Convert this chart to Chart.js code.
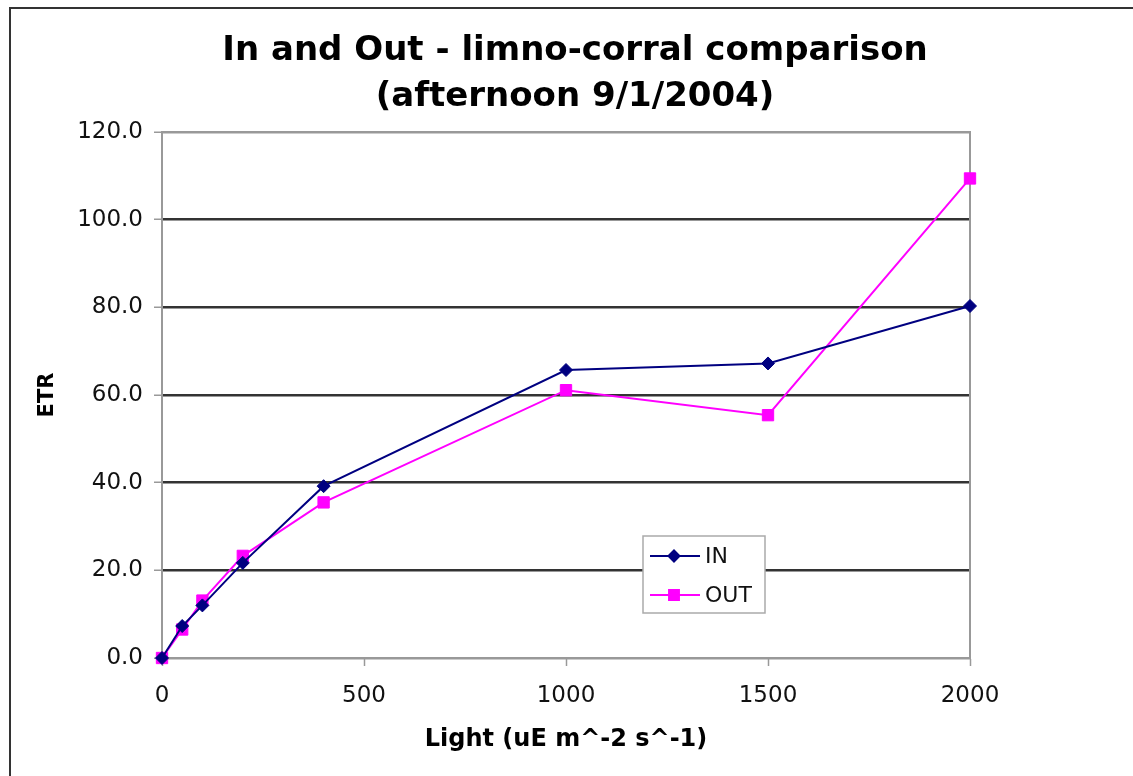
<!DOCTYPE html>
<html>
<head>
<meta charset="utf-8">
<title>In and Out - limno-corral comparison</title>
<script src="https://cdn.jsdelivr.net/npm/chart.js@4/dist/chart.umd.min.js"></script>
<style>
    body { margin: 0; background: #fff; }
    #wrap { width: 1133px; height: 776px; }
</style>
</head>
<body>
<div id="wrap"><canvas id="etrChart" width="1133" height="776"></canvas></div>
<script>
// Light levels (uE m^-2 s^-1) and ETR readings
const lightLevels = [0, 50, 100, 200, 400, 1000, 1500, 2000];
const inValues = [0, 7.3, 12.0, 21.7, 39.2, 65.7, 67.2, 80.3];
const outValues = [0, 6.5, 13.1, 23.3, 35.5, 61.1, 55.4, 109.4];
const seriesNames = ['IN', 'OUT'];
const xTicks = [0, 500, 1000, 1500, 2000];
const yTicks = [0, 20, 40, 60, 80, 100, 120];
const titleLines = ['In and Out - limno-corral comparison', '(afternoon 9/1/2004)'];

const FONT = "'DejaVu Sans', Verdana, sans-serif";

function toPoints(values) {
    return lightLevels.map((x, i) => ({ x: x, y: values[i] }));
}

// frame, title, plot box and the inset legend
const decorPlugin = {
    id: 'decor',
    beforeDatasetsDraw(chart) {
        const ctx = chart.ctx;
        const area = chart.chartArea;
        ctx.save();
        // plot area box (under the series so markers on the edge stay on top)
        ctx.strokeStyle = '#999';
        ctx.lineWidth = 2;
        ctx.strokeRect(area.left, area.top, area.right - area.left, area.bottom - area.top);
        ctx.restore();
    },
    afterDraw(chart) {
        const ctx = chart.ctx;
        ctx.save();

        // outer frame (only top and left edges are visible)
        ctx.strokeStyle = '#333';
        ctx.lineWidth = 2;
        ctx.beginPath();
        ctx.moveTo(10, chart.height);
        ctx.lineTo(10, 8);
        ctx.lineTo(chart.width, 8);
        ctx.stroke();

        // title, centred on the page rather than the plot
        ctx.fillStyle = '#000';
        ctx.font = 'bold 34px ' + FONT;
        ctx.textAlign = 'center';
        ctx.textBaseline = 'middle';
        titleLines.forEach((line, i) => {
            ctx.fillText(line, 575, 51 + i * 46);
        });

        // legend
        const lx = 643, ly = 536, lw = 122, lh = 77;
        ctx.fillStyle = '#fff';
        ctx.fillRect(lx, ly, lw, lh);
        ctx.strokeStyle = '#aaa';
        ctx.lineWidth = 1.5;
        ctx.strokeRect(lx, ly, lw, lh);

        ctx.font = '22px ' + FONT;
        ctx.textBaseline = 'middle';
        ctx.textAlign = 'left';
        chart.data.datasets.forEach((ds, i) => {
            const y = ly + 20 + i * 39;
            ctx.strokeStyle = ds.borderColor;
            ctx.lineWidth = 2;
            ctx.beginPath();
            ctx.moveTo(lx + 7, y);
            ctx.lineTo(lx + 57, y);
            ctx.stroke();
            ctx.fillStyle = ds.pointBackgroundColor;
            Chart.helpers.drawPoint(ctx, {
                pointStyle: ds.pointStyle,
                radius: ds.pointRadius - 1,
                borderWidth: 1
            }, lx + 31, y);
            ctx.fillStyle = '#111';
            ctx.fillText(ds.label, lx + 62, y + 1);
        });
        ctx.restore();
    }
};

const ctx = document.getElementById('etrChart').getContext('2d');
const etrChart = new Chart(ctx, {
    type: 'scatter',
    data: {
        datasets: [
            {
                label: seriesNames[0],
                data: toPoints(inValues),
                showLine: true,
                clip: false,
                borderColor: '#000080',
                backgroundColor: '#000080',
                pointBackgroundColor: '#000080',
                pointBorderColor: '#000080',
                pointStyle: 'rectRot',
                pointRadius: 6.5,
                pointBorderWidth: 1,
                borderWidth: 2
            },
            {
                label: seriesNames[1],
                data: toPoints(outValues),
                showLine: true,
                clip: false,
                borderColor: '#ff00ff',
                backgroundColor: '#ff00ff',
                pointBackgroundColor: '#ff00ff',
                pointBorderColor: '#ff00ff',
                pointStyle: 'rect',
                pointRadius: 8,
                pointBorderWidth: 1,
                borderWidth: 2
            }
        ]
    },
    options: {
        responsive: false,
        animation: false,
        layout: {
            padding: { left: 0, right: 163, top: 132, bottom: 0 }
        },
        plugins: {
            legend: { display: false },
            tooltip: { enabled: false },
            title: { display: false }
        },
        scales: {
            x: {
                type: 'linear',
                min: 0,
                max: 2000,
                afterBuildTicks(scale) {
                    scale.ticks = xTicks.map(v => ({ value: v }));
                },
                afterFit(scale) {
                    scale.height = 118;
                },
                grid: {
                    drawOnChartArea: false,
                    drawTicks: true,
                    tickLength: 8,
                    tickColor: '#999',
                    tickWidth: 1.5
                },
                border: { color: '#999', width: 2 },
                ticks: {
                    color: '#111',
                    padding: 16,
                    maxRotation: 0,
                    font: { family: FONT, size: 23 },
                    callback: (value) => String(value)
                },
                title: {
                    display: true,
                    text: 'Light (uE m^-2 s^-1)',
                    color: '#000',
                    font: { family: FONT, size: 24, weight: 'bold' },
                    padding: { top: 0, bottom: 22 }
                }
            },
            y: {
                min: 0,
                max: 120,
                afterBuildTicks(scale) {
                    scale.ticks = yTicks.map(v => ({ value: v }));
                },
                afterFit(scale) {
                    scale.width = 162;
                },
                grid: {
                    color: (c) => (c.tick && (c.tick.value === 0 || c.tick.value === 120)) ? '#999' : '#333',
                    lineWidth: 2.5,
                    tickLength: 8,
                    tickColor: '#999',
                    tickWidth: 1.5
                },
                border: { color: '#999', width: 2 },
                ticks: {
                    color: '#111',
                    padding: 11,
                    font: { family: FONT, size: 23 },
                    callback: (value) => Number(value).toFixed(1)
                },
                title: {
                    display: true,
                    text: 'ETR',
                    color: '#000',
                    font: { family: FONT, size: 21, weight: 'bold' },
                    padding: { top: 35, bottom: 0 }
                }
            }
        }
    },
    plugins: [decorPlugin]
});
</script>
</body>
</html>
